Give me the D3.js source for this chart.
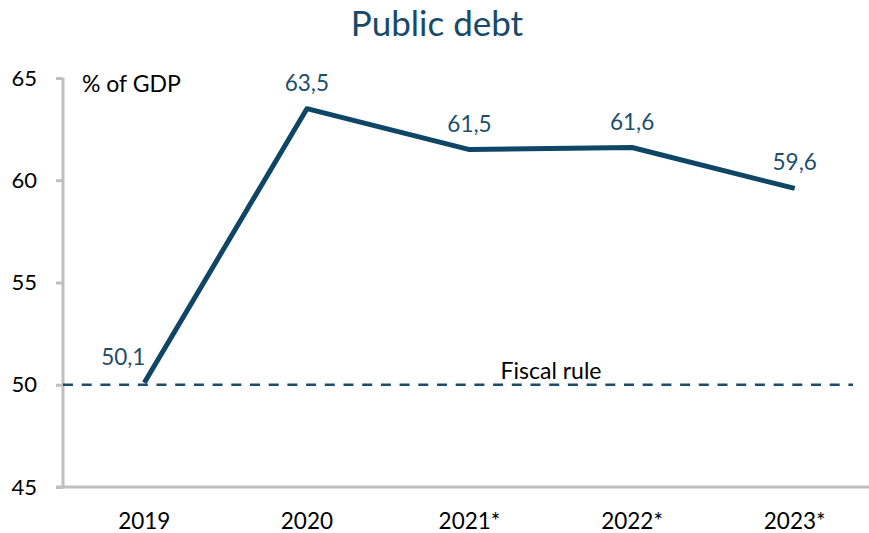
<!DOCTYPE html>
<html>
<head>
<meta charset="utf-8">
<script src="https://cdn.jsdelivr.net/npm/d3@7"></script>
<style>
  body { margin: 0; background: #fff; }
  text { font-family: Lato, "Open Sans", sans-serif; }
</style>
</head>
<body>
<svg id="chart" width="869" height="533"></svg>
<script>
// chart data
const years = ['2019', '2020', '2021*', '2022*', '2023*'];
const debt = [50.1, 63.5, 61.5, 61.6, 59.6];
const yTicks = [45, 50, 55, 60, 65];
const fiscalRule = 50;

const svg = d3.select('#chart');
const plotLeft = 63, plotRight = 876, plotTop = 78, plotBottom = 487;
const navy = '#0f4565';
const labelColor = '#1c4e6c';

const x = d3.scalePoint().domain(years).range([plotLeft, plotRight]).padding(0.5);
const y = d3.scaleLinear().domain([45, 65]).range([plotBottom, plotTop]);

// title
svg.append('text')
    .attr('x', 437).attr('y', 36)
    .attr('text-anchor', 'middle')
    .attr('font-size', 35)
    .attr('fill', '#174a69')
    .text('Public debt');

// y axis
const yAxis = svg.append('g')
    .attr('transform', `translate(${plotLeft},0)`)
    .call(d3.axisLeft(y).tickValues(yTicks).tickSize(7).tickPadding(19).tickFormat(d3.format('d')));
yAxis.select('.domain').attr('stroke', '#bfbfbf').attr('stroke-width', 3).attr('d', `M0,${plotTop}V${plotBottom}`);
yAxis.selectAll('.tick line').attr('stroke', '#bfbfbf').attr('stroke-width', 3);
yAxis.selectAll('.tick text').attr('font-size', 22).attr('fill', '#000').attr('font-family', 'Lato, sans-serif');

// x axis line
svg.append('line')
    .attr('x1', plotLeft - 7).attr('x2', 869)
    .attr('y1', plotBottom).attr('y2', plotBottom)
    .attr('stroke', '#bfbfbf').attr('stroke-width', 3);

// x labels
svg.append('g').selectAll('text')
    .data(years)
    .join('text')
    .attr('x', d => x(d))
    .attr('y', 529)
    .attr('text-anchor', 'middle')
    .attr('font-size', 22.5)
    .attr('fill', '#000')
    .text(d => d);

// unit label
svg.append('text')
    .attr('x', 82).attr('y', 92)
    .attr('font-size', 23)
    .attr('fill', '#000')
    .text('% of GDP');

// fiscal rule
svg.append('line')
    .attr('x1', plotLeft).attr('x2', 853)
    .attr('y1', y(fiscalRule)).attr('y2', y(fiscalRule))
    .attr('stroke', '#1c4e6c').attr('stroke-width', 2.5)
    .attr('stroke-dasharray', '10,8.7');
svg.append('text')
    .attr('x', 551).attr('y', y(fiscalRule) - 6)
    .attr('text-anchor', 'middle')
    .attr('font-size', 23)
    .attr('fill', '#000')
    .text('Fiscal rule');

// debt line
const line = d3.line().x((d, i) => x(years[i])).y(d => y(d));
svg.append('path')
    .datum(debt)
    .attr('d', line)
    .attr('fill', 'none')
    .attr('stroke', navy)
    .attr('stroke-width', 5)
    .attr('stroke-linejoin', 'round');

// value labels
const fmt = v => d3.format('.1f')(v).replace('.', ',');
svg.append('g').selectAll('text')
    .data(debt)
    .join('text')
    .attr('x', (d, i) => x(years[i]) - (i === 0 ? 21 : 0))
    .attr('y', d => y(d) - 18)
    .attr('text-anchor', 'middle')
    .attr('font-size', 22.5)
    .attr('fill', labelColor)
    .text(d => fmt(d));
</script>
</body>
</html>
